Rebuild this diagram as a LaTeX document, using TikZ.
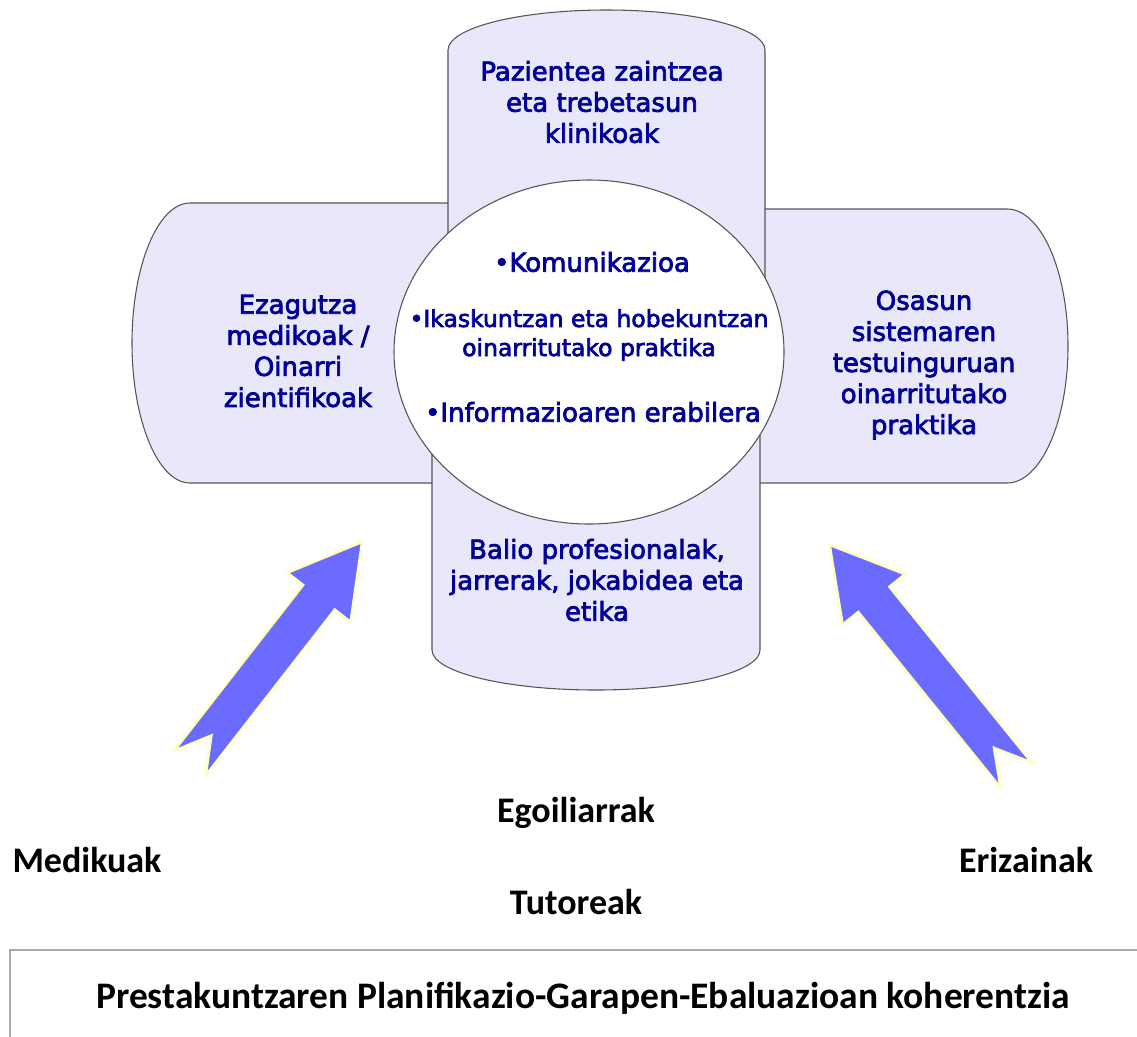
\documentclass[tikz,border=0pt]{standalone}
\usepackage{fontspec}
\setmainfont{Carlito}
\newfontfamily\bluefont[FakeBold=2.8]{DejaVu Sans}
\usepackage{tikz}
\usetikzlibrary{shapes.geometric}
\usetikzlibrary{positioning}

\definecolor{canfill}{RGB}{232,232,250}
\definecolor{canline}{RGB}{85,85,85}
\definecolor{textblue}{RGB}{0,0,150}
\definecolor{arrowfill}{RGB}{107,107,255}
\definecolor{arrowrim}{RGB}{255,255,190}
\definecolor{boxline}{RGB}{170,170,170}

\begin{document}
\begin{tikzpicture}[x=0.75pt,y=-0.75pt,
    can/.style={fill=canfill, draw=canline, line width=0.8pt},
    core/.style={ellipse, fill=white, draw=canline, line width=0.8pt, minimum width=292.5pt, minimum height=258pt},
    cantext/.style={text=textblue, align=center, font=\bluefont\fontsize{19.5}{23.3}\selectfont},
    coretext/.style={text=textblue, align=center, font=\bluefont\fontsize{19.5}{23.3}\selectfont},
    coresmall/.style={text=textblue, align=center, font=\bluefont\fontsize{17.6}{21.8}\selectfont},
    who/.style={font=\bfseries\fontsize{27}{32}\selectfont},
    bigarrow/.style={fill=arrowfill, draw=arrowrim, line width=1.8pt, line join=miter}]

    \useasboundingbox (0,0) rectangle (1137,1036);

    % side cans first, then top and bottom, then the core
    \path[can] (600,203) -- (190,203) arc[start angle=270, end angle=90, x radius=58, y radius=140] -- (600,483) -- cycle;
    \path[can] (600,209) -- (1007,209) arc[start angle=270, end angle=450, x radius=61, y radius=137] -- (600,483) -- cycle;
    \path[can] (448,400) -- (448,50) arc[start angle=180, end angle=360, x radius=158.5, y radius=40] -- (765,400) -- cycle;
    \path[can] (432,300) -- (432,650) arc[start angle=180, end angle=0, x radius=164, y radius=40] -- (760,300) -- cycle;

    \node[core] (core) at (589,352) {};

    \node[cantext] (top) at (602,102) {Pazientea zaintzea\\eta trebetasun\\klinikoak};
    \node[cantext] (left) at (298,351) {Ezagutza\\medikoak /\\Oinarri\\zientifikoak};
    \node[cantext] (right) at (924,365) {Osasun\\sistemaren\\testuinguruan\\oinarritutako\\praktika};
    \node[cantext] (bottom) at (597,580) {Balio profesionalak,\\jarrerak, jokabidea eta\\etika};

    \node[coretext] (komu) at (592,262) {\textbullet Komunikazioa};
    \node[coresmall] (ikas) at (589,335) {\textbullet Ikaskuntzan eta hobekuntzan\\oinarritutako praktika};
    \node[coretext] (info) at (593,412) {\textbullet Informazioaren erabilera};

    % the two block arrows
    \foreach \tx/\ty/\ang/\len in {190/763/52.1/280, 1016/775/129/296}{
        \begin{scope}[shift={(\tx,\ty)}, rotate=\ang]
            \path[bigarrow] (0,20) -- ({\len-70},20) -- ({\len-70},40) -- (\len,0)
                -- ({\len-70},-40) -- ({\len-70},-20) -- (0,-20) -- (35,0) -- cycle;
        \end{scope}
    }

    \node[who] (egoi) at (576,813) {Egoiliarrak};
    \node[who] (medi) at (87,860) {Medikuak};
    \node[who] (eriz) at (1026,860) {Erizainak};
    \node[who] (tuto) at (576,902) {Tutoreak};

    \node[draw=boxline, line width=1.5pt, minimum width=859.5pt, minimum height=72pt,
          font=\bfseries\fontsize{28.1}{33}\selectfont] (plan) at (583,998)
          {Prestakuntzaren Planifikazio-Garapen-Ebaluazioan koherentzia};

\end{tikzpicture}
\end{document}
